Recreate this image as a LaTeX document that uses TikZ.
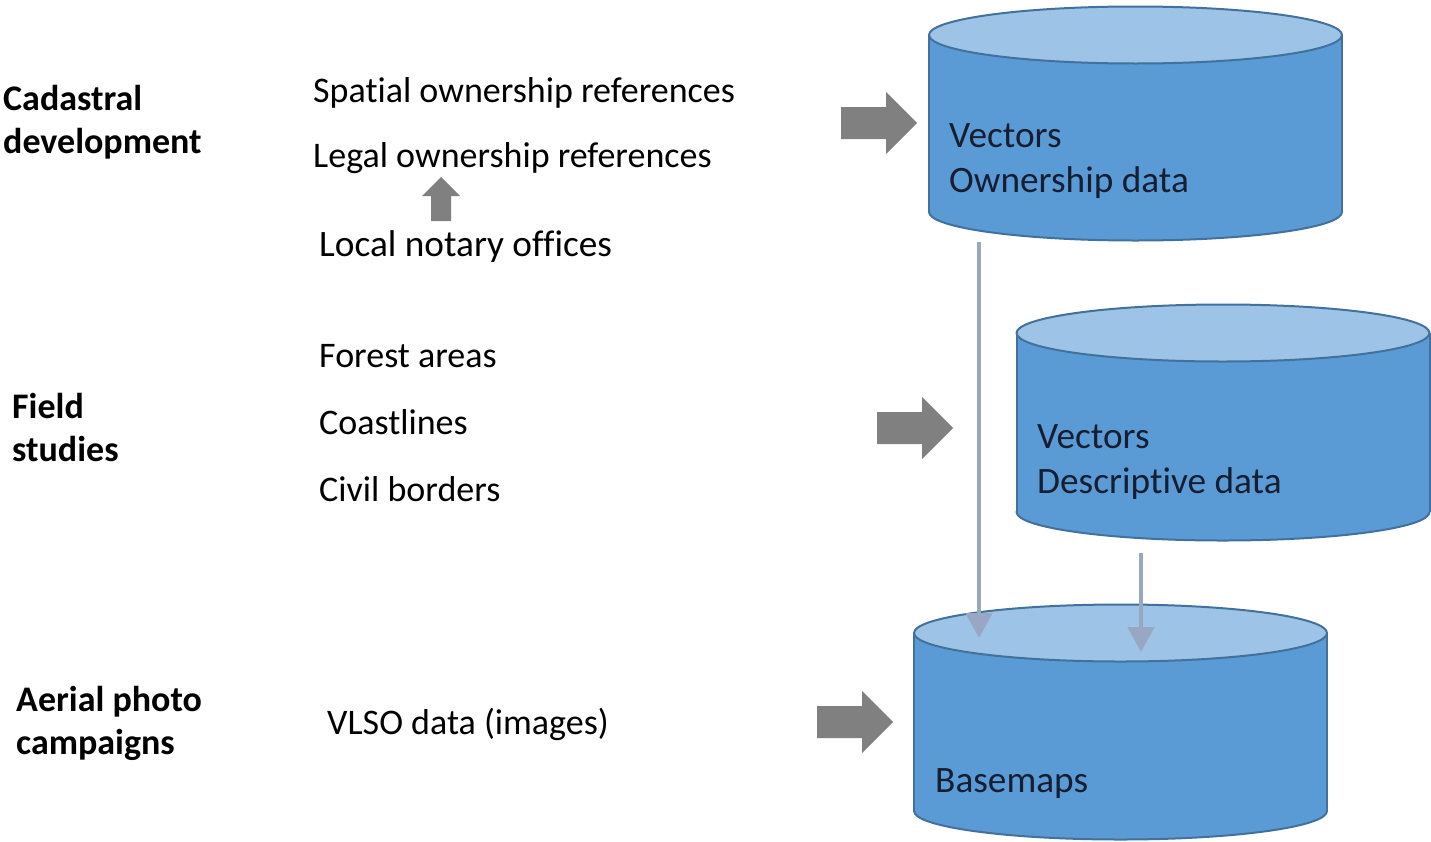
\documentclass[tikz,border=0pt]{standalone}
\usepackage{fontspec}
\setmainfont{Carlito}[RawFeature={-liga;-clig;-calt;-dlig}]
\usetikzlibrary{arrows.meta}
\definecolor{dbbody}{RGB}{91,155,213}
\definecolor{dbtop}{RGB}{157,195,230}
\definecolor{dbline}{RGB}{65,113,156}
\definecolor{dbtext}{RGB}{22,30,50}
\definecolor{blockgray}{RGB}{128,128,128}
\definecolor{flowcol}{RGB}{152,168,196}
\begin{document}
\begin{tikzpicture}[x=1pt,y=-1pt,font=\fontsize{36}{43}\selectfont,line join=round,
  lbl/.style={anchor=base west,inner sep=0pt,align=left},
  biglbl/.style={lbl,font=\fontsize{37.3}{45}\selectfont},
  head/.style={lbl,font=\fontsize{36}{43}\selectfont\bfseries},
  dbtext/.style={biglbl,text=dbtext},
  flow/.style={draw=flowcol,line width=4.5pt,-{Triangle[width=26pt,length=25pt]}}]
\useasboundingbox (0,0) rectangle (1431,841);
\def\rx{206.5}
\def\ry{28.5}
\def\dbcyl#1#2#3{% centre x, top y, bottom y
  \filldraw[fill=dbbody,draw=dbline,line width=2pt] (#1,#3) ellipse [x radius=\rx,y radius=\ry];
  \fill[dbbody] ({#1-\rx},#2) rectangle ({#1+\rx},#3);
  \draw[dbline,line width=2pt] ({#1-\rx},#2) -- ({#1-\rx},#3) ({#1+\rx},#2) -- ({#1+\rx},#3);
  \filldraw[fill=dbtop,draw=dbline,line width=2pt] (#1,#2) ellipse [x radius=\rx,y radius=\ry];}
\def\blockarrow#1#2{\fill[blockgray] (#1,{#2-16}) -- ({#1+45},{#2-16}) -- ({#1+45},{#2-31}) -- ({#1+76},#2)
  -- ({#1+45},{#2+31}) -- ({#1+45},{#2+16}) -- (#1,{#2+16}) -- cycle;}
% databases
\dbcyl{1135.5}{35}{212}
\dbcyl{1223}{333}{512}
\dbcyl{1120.5}{633}{811}
\node[dbtext] (vec1) at (949,192) {Vectors\\Ownership data};
\node[dbtext] (vec2) at (1037,493) {Vectors\\Descriptive data};
\node[dbtext] (base) at (935,792) {Basemaps};
% sources
\node[head] (cad) at (3,153) {Cadastral\\development};
\node[head] (field) at (12,461) {Field\\studies};
\node[head] (aerial) at (16,754) {Aerial photo\\campaigns};
\node[lbl] (spatial) at (313,102) {Spatial ownership references};
\node[lbl] (legal) at (313,167) {Legal ownership references};
\node[biglbl] (notary) at (319,256) {Local notary offices};
\node[lbl] (forest) at (319,367) {Forest areas};
\node[lbl] (coast) at (319,434) {Coastlines};
\node[lbl] (civil) at (319,501) {Civil borders};
\node[lbl] (vlso) at (327,734) {VLSO data (images)};
% block arrows
\blockarrow{841}{123}
\blockarrow{877}{428}
\blockarrow{817}{722}
\fill[blockgray] (431,221) -- (431,196) -- (422,196) -- (441,177) -- (460,196) -- (451,196) -- (451,221) -- cycle;
% flows into the basemaps
\coordinate (own out) at (979,242);
\coordinate (base in1) at (979,638);
\coordinate (desc out) at (1141,553);
\coordinate (base in2) at (1141,652);
\draw[flow] (own out) -- (base in1);
\draw[flow] (desc out) -- (base in2);
\end{tikzpicture}
\end{document}
